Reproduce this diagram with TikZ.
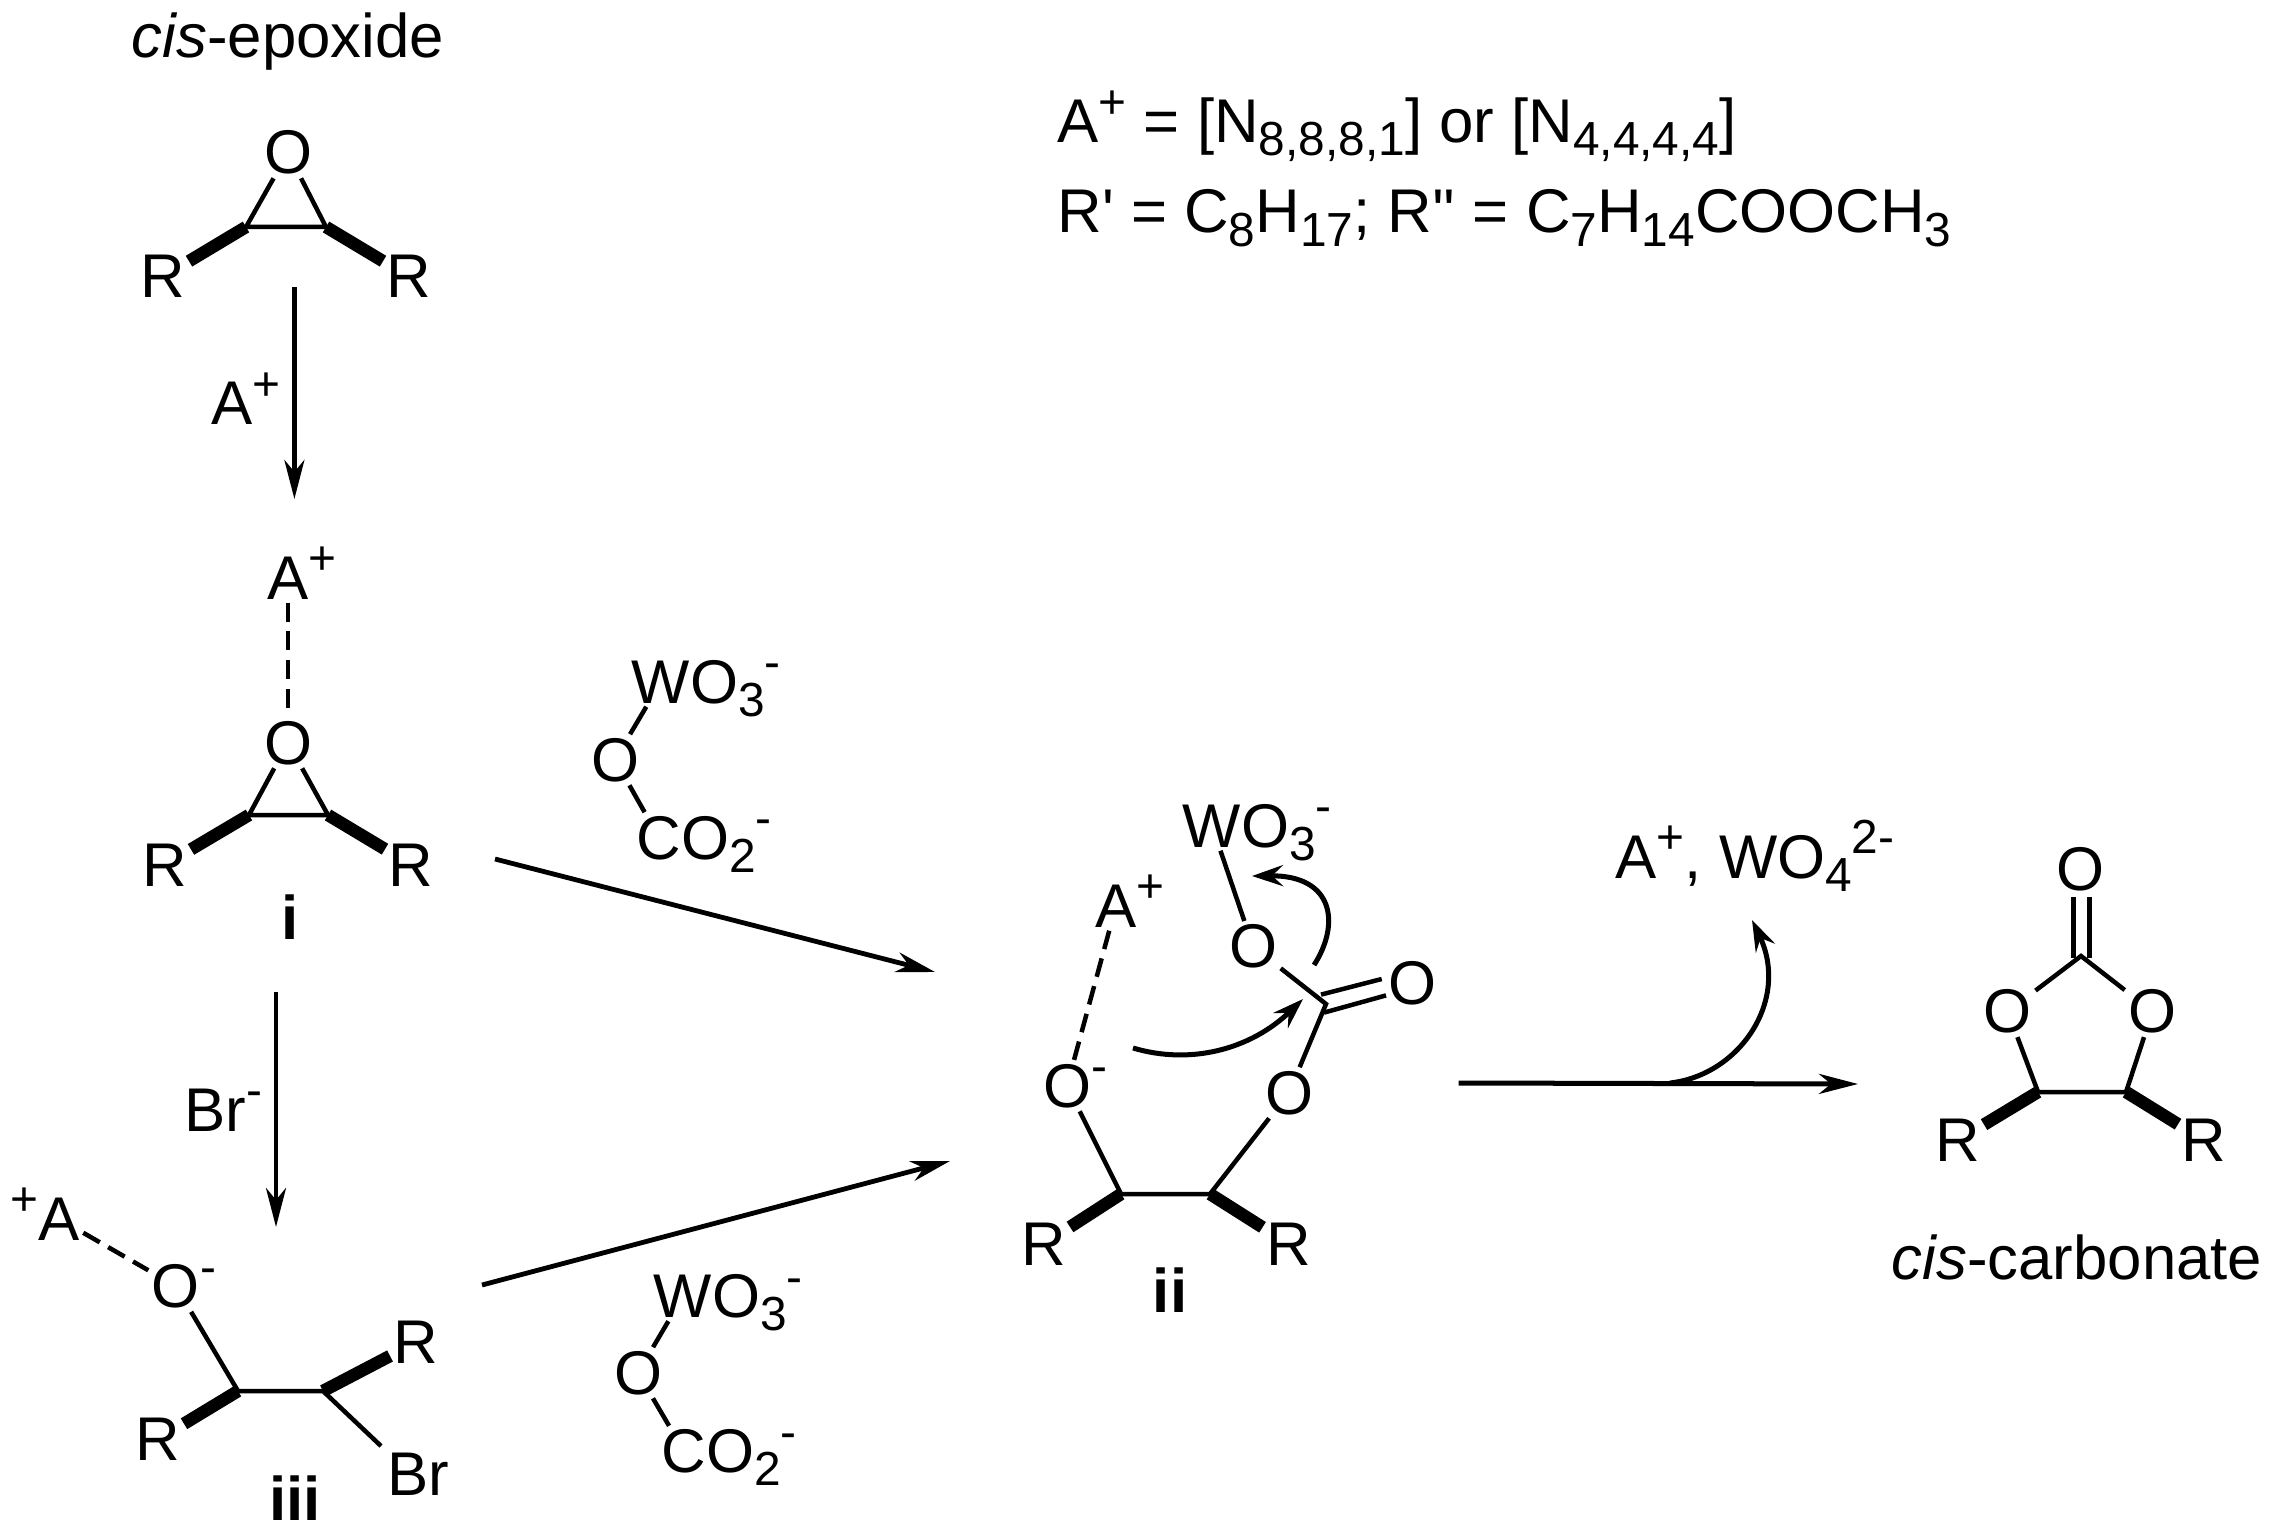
\documentclass[tikz,border=0pt]{standalone}
\usepackage{fontspec}
\setmainfont{Liberation Sans}
\newfontfamily\plainf{Liberation Sans}
\usetikzlibrary{arrows.meta}
\newcommand\chemsub[1]{\raisebox{-0.13cm}{\fontsize{13.6pt}{15pt}\selectfont #1}}
\newcommand\chemsup[1]{\raisebox{0.245cm}{\fontsize{13.6pt}{15pt}\selectfont #1}}
\newcommand\atm[2]{#1\rlap{\smash{#2}}}
\tikzset{
  txt/.style={anchor=base west,inner sep=0pt,font=\fontsize{17.55pt}{20pt}\selectfont},
  atom/.style={anchor=base,inner sep=0.03cm,font=\fontsize{17.55pt}{20pt}\selectfont},
  num/.style={anchor=base,inner sep=0pt,font=\fontsize{17.55pt}{20pt}\selectfont\bfseries},
  bond/.style={line width=0.045cm},
  wedge/.style={line width=0.125cm},
  dbond/.style={line width=0.045cm,dash pattern=on 0.19cm off 0.097cm},
  rxn/.style={line width=0.048cm,-{Stealth[length=3.9mm,width=2mm,inset=1.2mm]}},
  curvearrow/.style={line width=0.05cm,-{Stealth[length=3.1mm,width=2.1mm,inset=1.1mm]}}
}
\begin{document}
\begin{tikzpicture}[x=0.01cm,y=-0.01cm]
\useasboundingbox (0,0) rectangle (2280,1537);
% top note
\node[txt] (t1) at (1057,143) {A\chemsup{+} = [N\chemsub{8,8,8,1}] or [N\chemsub{4,4,4,4}]};
\node[txt] (t2) at (1057,233) {R{\plainf'} = C\chemsub{8}H\chemsub{17}; R{\plainf''} = C\chemsub{7}H\chemsub{14}COOCH\chemsub{3}};
% cis-epoxide
\node[txt] (tep) at (131,58) {\textit{cis}-epoxide};
\node[atom] (eO) at (288,174) {O};
\node[atom] (eR1) at (163,298) {R};
\node[atom] (eR2) at (409,298) {R};
\coordinate (eC1) at (246,227);
\coordinate (eC2) at (326,227);
\draw[bond] (eO) -- (eC1) -- (eC2) -- (eO);
\draw[wedge] (eC1) -- (eR1);
\draw[wedge] (eC2) -- (eR2);
% arrow A+
\coordinate (a1s) at (294.4,287);
\coordinate (a1e) at (294.4,499);
\draw[rxn] (a1s) -- (a1e);
\node[txt] (la1) at (211,425) {A\chemsup{+}};
% i
\node[atom] (iA) at (288,599) {\atm{A}{\chemsup{+}}};
\node[atom] (iO) at (288,764) {O};
\node[atom] (iR1) at (165,886) {R};
\node[atom] (iR2) at (411,886) {R};
\coordinate (iC1) at (249,815);
\coordinate (iC2) at (328,815);
\draw[dbond] (iA) -- (iO);
\draw[bond] (iO) -- (iC1) -- (iC2) -- (iO);
\draw[wedge] (iC1) -- (iR1);
\draw[wedge] (iC2) -- (iR2);
\node[num] (ni) at (290,939) {i};
% arrow Br-
\coordinate (a2s) at (276,992);
\coordinate (a2e) at (276,1227);
\draw[rxn] (a2s) -- (a2e);
\node[txt] (la2) at (184,1131) {Br\chemsup{-}};
% iii
\node[atom] (tA) at (59,1240) {\llap{\smash{\chemsup{+}}}A};
\node[atom] (tO) at (176,1307.5) {\atm{O}{\chemsup{-}}};
\node[atom] (tR1) at (158,1460.7) {R};
\node[atom] (tR2) at (416,1363.6) {R};
\node[atom] (tBr) at (418,1495) {Br};
\coordinate (tC1) at (238,1391);
\coordinate (tC2) at (323,1391);
\coordinate (tBrE) at (381,1446);
\draw[dbond] (tA) -- (tO);
\draw[bond] (tO) -- (tC1) -- (tC2) -- (tBrE);
\draw[wedge] (tC1) -- (tR1);
\draw[wedge] (tC2) -- (tR2);
\node[num] (niii) at (295,1520) {iii};
% WO3 O CO2 group 1
\node[atom] (g1W) at (661,703) {\atm{W}{O\chemsub{3}\chemsup{-}}};
\node[atom] (g1O) at (615,781) {O};
\node[atom] (g1C) at (659,859) {\atm{C}{O\chemsub{2}\chemsup{-}}};
\draw[bond] (g1W) -- (g1O) -- (g1C);
% WO3 O CO2 group 2
\node[atom] (g2W) at (683,1317.5) {\atm{W}{O\chemsub{3}\chemsup{-}}};
\node[atom] (g2O) at (638,1394) {O};
\node[atom] (g2C) at (684,1472.6) {\atm{C}{O\chemsub{2}\chemsup{-}}};
\draw[bond] (g2W) -- (g2O) -- (g2C);
% arrows to ii
\coordinate (a3s) at (495,859);
\coordinate (a3e) at (935,972);
\draw[rxn] (a3s) -- (a3e);
\coordinate (a4s) at (482,1285);
\coordinate (a4e) at (950,1161);
\draw[rxn] (a4s) -- (a4e);
% ii
\node[atom] (dW) at (1212,847) {\atm{W}{O\chemsub{3}\chemsup{-}}};
\node[atom] (dO1) at (1253,967.8) {O};
\node[atom] (dO2) at (1412,1004) {O};
\node[atom] (dO3) at (1289,1114) {O};
\node[atom] (dOm) at (1067,1107) {\atm{O}{\chemsup{-}}};
\node[atom] (dA) at (1116,927) {\atm{A}{\chemsup{+}}};
\node[atom] (dR1) at (1044,1265) {R};
\node[atom] (dR2) at (1288.5,1265) {R};
\coordinate (dC) at (1326,1004);
\coordinate (dC1) at (1121,1194);
\coordinate (dC2) at (1210,1194);
\coordinate (dd1a) at (1321,994.6);
\coordinate (dd1b) at (1381.7,979);
\coordinate (dd2a) at (1324,1012.6);
\coordinate (dd2b) at (1386,995.4);
\draw[bond] (dW) -- (dO1) -- (dC) -- (dO3) -- (dC2) -- (dC1) -- (dOm);
\draw[bond] (dd1a) -- (dd1b);
\draw[bond] (dd2a) -- (dd2b);
\draw[dbond] (dA) -- (dOm);
\draw[wedge] (dC1) -- (dR1);
\draw[wedge] (dC2) -- (dR2);
\node[num] (nii) at (1170,1312) {ii};
\coordinate (ca1s) at (1133,1048);
\coordinate (ca1e) at (1303,999);
\draw[curvearrow] (ca1s) .. controls (1190,1065) and (1250,1050) .. (ca1e);
\coordinate (ca2s) at (1314,965);
\coordinate (ca2e) at (1252,876);
\draw[curvearrow] (ca2s) .. controls (1340,925) and (1335,875) .. (ca2e);
% main arrow
\coordinate (ms) at (1458.7,1083);
\coordinate (me) at (1858,1084);
\draw[rxn,line width=0.05cm] (ms) -- (me);
\coordinate (bs) at (1670,1083);
\coordinate (be) at (1752,920);
\draw[curvearrow] (bs) .. controls (1740,1075) and (1790,1000) .. (be);
\node[txt] (by) at (1615,878) {A\chemsup{+}, WO\chemsub{4}\chemsup{2-}};
% carbonate
\node[atom] (cOt) at (2080,890) {O};
\node[atom] (cO1) at (2007.8,1032.8) {O};
\node[atom] (cO2) at (2152.4,1032.8) {O};
\node[atom] (cR1) at (1958,1161.5) {R};
\node[atom] (cR2) at (2204,1161.5) {R};
\coordinate (cC) at (2081,956);
\coordinate (cC1) at (2038,1092);
\coordinate (cC2) at (2126,1092);
\coordinate (cd1a) at (2073.6,897);
\coordinate (cd1b) at (2073.6,958);
\coordinate (cd2a) at (2089.7,897);
\coordinate (cd2b) at (2089.7,958);
\draw[bond] (cd1a) -- (cd1b);
\draw[bond] (cd2a) -- (cd2b);
\draw[bond] (cO1) -- (cC) -- (cO2) -- (cC2) -- (cC1) -- (cO1);
\draw[wedge] (cC1) -- (cR1);
\draw[wedge] (cC2) -- (cR2);
\node[txt] (tcc) at (1891,1279) {\textit{cis}-carbonate};
\end{tikzpicture}
\end{document}
